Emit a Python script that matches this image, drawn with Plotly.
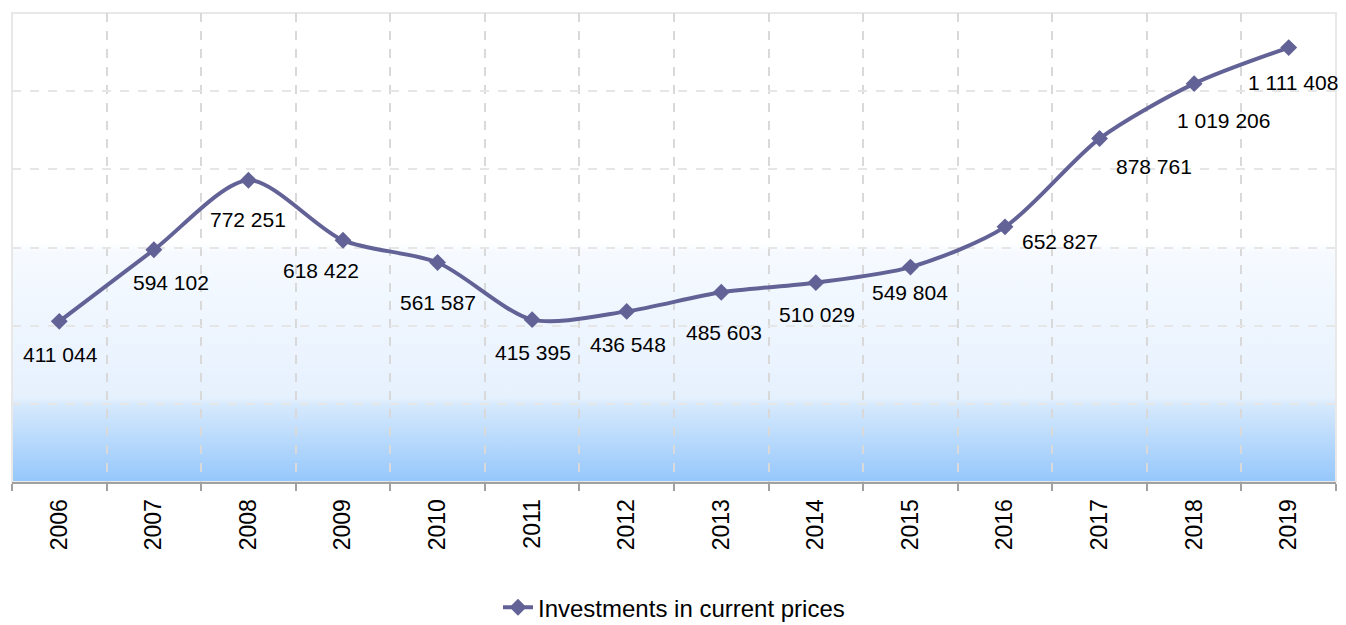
import base64
import plotly.graph_objects as go

years = ["2006", "2007", "2008", "2009", "2010", "2011", "2012",
         "2013", "2014", "2015", "2016", "2017", "2018", "2019"]
investments = [411044, 594102, 772251, 618422, 561587, 415395, 436548,
               485603, 510029, 549804, 652827, 878761, 1019206, 1111408]
series_name = "Investments in current prices"

# label placement offsets in pixels (dx right, dy down) - styling only
label_dx = [1, 17, 0, -22, 0, 1, 1, 3, 1, 0, 55, 54, 29, 4]
label_dy = [33, 33, 39, 30, 40, 33, 33, 40, 32, 25, 15, 28, 37, 35]

LINE = "#636296"
FONT = "Liberation Sans, Arial, sans-serif"

def fmt(v):
    return f"{v:,}".replace(",", " ")

idx = list(range(len(years)))

svg = """<svg xmlns='http://www.w3.org/2000/svg' width='100' height='100' preserveAspectRatio='none'>
<defs><linearGradient id='g' x1='0' y1='0' x2='0' y2='1'>
<stop offset='0' stop-color='#ffffff'/>
<stop offset='0.49' stop-color='#ffffff'/>
<stop offset='0.51' stop-color='#f6faff'/>
<stop offset='0.82' stop-color='#e6f1fe'/>
<stop offset='0.835' stop-color='#d6e9fd'/>
<stop offset='1' stop-color='#95c7fb'/>
</linearGradient></defs>
<rect x='0' y='0' width='100' height='100' fill='url(#g)'/></svg>"""
svg_uri = "data:image/svg+xml;base64," + base64.b64encode(svg.encode()).decode()

fig = go.Figure()
fig.add_trace(go.Scatter(
    x=idx, y=investments, name=series_name, mode="lines+markers",
    line=dict(color=LINE, width=4, shape="spline", smoothing=0.8),
    marker=dict(symbol="diamond", size=13, color=LINE),
))

for i, v in enumerate(investments):
    fig.add_annotation(
        x=i, y=v, text=fmt(v), showarrow=False,
        xshift=label_dx[i], yshift=-label_dy[i],
        xanchor="center", yanchor="middle",
        font=dict(family=FONT, size=21, color="#000000"),
    )

fig.update_layout(
    width=1338, height=617,
    margin=dict(l=4, r=10, t=5, b=143, autoexpand=False),
    paper_bgcolor="white", plot_bgcolor="white",
    font=dict(family=FONT, size=21, color="#000000"),
    showlegend=True,
    legend=dict(orientation="h", x=0.5, xanchor="center", y=-0.268, yanchor="middle",
                font=dict(family=FONT, size=24, color="#000000"), bgcolor="rgba(0,0,0,0)"),
    images=[dict(source=svg_uri, xref="paper", yref="paper", x=0, y=1,
                 sizex=1, sizey=1, sizing="stretch", layer="below", xanchor="left", yanchor="top")],
    shapes=[dict(type="rect", xref="paper", yref="paper", x0=0, y0=0, x1=1, y1=1,
                 line=dict(color="#e8e8e8", width=2), layer="below")],
)

fig.update_xaxes(
    range=[-0.5, len(years) - 0.5], tickmode="array", tickvals=idx, ticktext=years,
    tickangle=-90, ticks="", showgrid=False, zeroline=False,
    showline=True, linecolor="#a0a0a0", linewidth=2,
    tickfont=dict(family=FONT, size=23, color="#000000"),
    minor=dict(tick0=0.5, dtick=1, ticks="outside", ticklen=7, tickcolor="#a0a0a0", tickwidth=2,
               showgrid=True, gridcolor="#d9d9d9", gridwidth=1.5, griddash="dash"),
    ticklabelstandoff=6, automargin=False,
)
fig.update_yaxes(
    range=[0, 1200000], dtick=200000, showticklabels=False, ticks="",
    showgrid=True, gridcolor="#e6e6e6", gridwidth=1.5, griddash="dash",
    zeroline=False, showline=False, automargin=False,
)

fig.write_html("out.html")
